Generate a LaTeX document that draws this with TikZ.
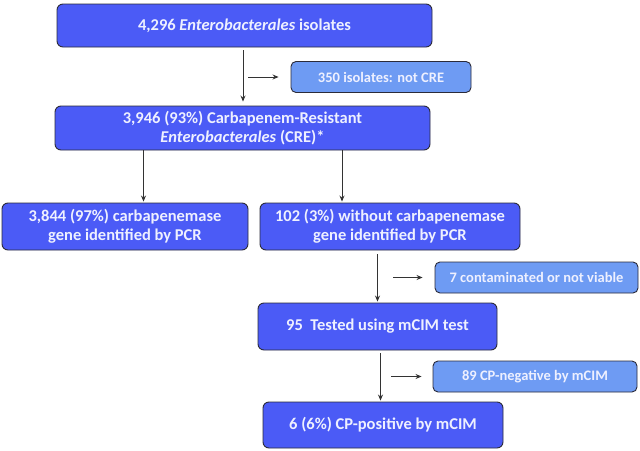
\documentclass[tikz,border=0pt]{standalone}
\usepackage{fontspec}
\setmainfont{Carlito}
\usetikzlibrary{arrows.meta}
\definecolor{mainblue}{HTML}{4B5BF6}
\definecolor{lightblue}{HTML}{6E9BF3}
\definecolor{edgegray}{HTML}{2B2B3A}
\definecolor{arrowgray}{HTML}{333333}
\definecolor{boxtext}{HTML}{EEF0FF}

\begin{document}
\begin{tikzpicture}[x=1pt,y=-1pt,
    mainbox/.style={draw=edgegray, line width=0.9pt, fill=mainblue, rounded corners=6pt,
      text=boxtext, font=\fontsize{16.5}{19}\selectfont\bfseries, align=center, inner sep=0pt},
    sidebox/.style={draw=edgegray, line width=0.9pt, fill=lightblue, rounded corners=5pt,
      text=boxtext, font=\fontsize{14.5}{17}\selectfont\bfseries, inner sep=0pt, minimum height=31pt},
    flow/.style={draw=arrowgray, line width=0.9pt, -{Stealth[length=6pt,width=5pt]}}]
  \fill[white] (0,0) rectangle (640,450);

  % Main chain
  \node[mainbox, minimum width=375pt, minimum height=43pt] (isol) at (244.5,25.5)
    {4,296 \textit{Enterobacterales} isolates};
  \node[mainbox, minimum width=375pt, minimum height=44pt] (cre) at (242.5,128)
    {3,946 (93\%) Carbapenem-Resistant\\\textit{Enterobacterales} (CRE)*};
  \node[mainbox, minimum width=246pt, minimum height=47pt] (cp) at (125,226.5)
    {3,844 (97\%) carbapenemase\\gene identified by PCR};
  \node[mainbox, minimum width=260pt, minimum height=47pt] (noncp) at (390,226.5)
    {102 (3\%) without carbapenemase\\gene identified by PCR};
  \node[mainbox, minimum width=239pt, minimum height=47pt] (mcim) at (377.5,326.5)
    {95~ Tested using mCIM test};
  \node[mainbox, minimum width=240pt, minimum height=46pt] (pos) at (383,425)
    {6 (6\%) CP-positive by mCIM};

  % Excluded isolates
  \node[sidebox, minimum width=180pt] (notcre) at (381,77) {350 isolates: not CRE};
  \node[sidebox, minimum width=203pt] (contam) at (536.5,277.5) {7 contaminated or not viable};
  \node[sidebox, minimum width=204pt] (neg) at (535,376.5) {89 CP-negative by mCIM};

  \coordinate (s1) at (248,77);
  \coordinate (s2) at (393,277.5);
  \coordinate (s3) at (391,376.5);

  % Arrows
  \draw[flow, shorten <=3pt, shorten >=4pt] ([xshift=-1.5pt]isol.south) -- ([xshift=-1.5pt]isol.south |- cre.north);
  \draw[flow, shorten >=1pt] ([xshift=-99pt]cre.south) -- ([xshift=-99pt]cre.south |- cp.north);
  \draw[flow, shorten >=1pt] ([xshift=99.5pt]cre.south) -- ([xshift=99.5pt]cre.south |- noncp.north);
  \draw[flow, shorten <=4pt, shorten >=1pt] (noncp.south -| mcim.north) -- (mcim.north);
  \draw[flow, shorten <=3pt, shorten >=1pt] ([xshift=3pt]mcim.south) -- ([xshift=3pt]mcim.south |- pos.north);

  \draw[flow, shorten >=12pt] (s1) -- (notcre.west);
  \draw[flow, shorten >=12pt] (s2) -- (contam.west);
  \draw[flow, shorten >=11pt] (s3) -- (neg.west);
\end{tikzpicture}
\end{document}
